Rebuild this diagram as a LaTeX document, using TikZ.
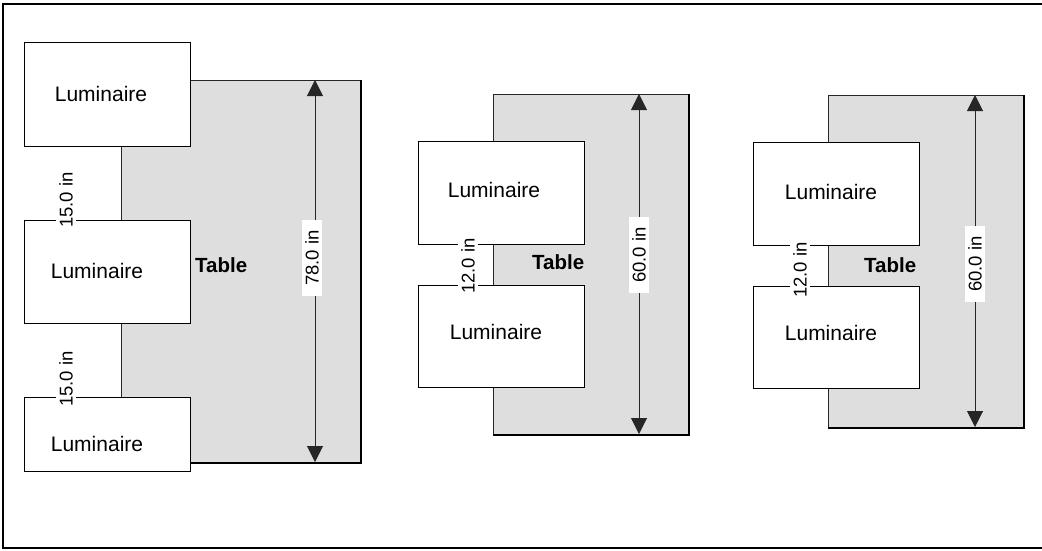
\documentclass[tikz,border=0pt]{standalone}
\usepackage{fontspec}
\setmainfont{Liberation Sans}
\usetikzlibrary{arrows.meta}
\definecolor{tablegray}{HTML}{DEDEDE}
\begin{document}
\begin{tikzpicture}[x=1pt,y=-1pt,
  tbl/.style={draw=black!85,fill=tablegray,line width=1pt,inner sep=0pt,anchor=north west},
  lum/.style={draw=black,fill=white,line width=1pt,inner sep=0pt,anchor=north west,minimum width=166pt},
  lumtext/.style={font=\fontsize{21}{25}\selectfont,inner sep=0pt},
  tabletext/.style={font=\fontsize{20.5}{24}\selectfont\bfseries,inner sep=0pt,anchor=west},
  dimlabel/.style={fill=white,rotate=90,font=\fontsize{18.5}{22}\selectfont,inner xsep=4pt,inner ysep=3pt},
  bigdim/.style={fill=white,rotate=90,font=\fontsize{18.5}{22}\selectfont,inner xsep=10pt,inner ysep=3pt},
  dimline/.style={draw=black!85,line width=1pt,{Triangle[width=16pt,length=16pt]}-{Triangle[width=16pt,length=16pt]}},
  shadowline/.style={draw=black,line width=2.2pt},
  framestyle/.style={draw=black,line width=1.3pt}]
\useasboundingbox (0,0) rectangle (1042,550);

% outer frame (open to the right)
\coordinate (f1) at (1046,4);
\coordinate (f2) at (3,4);
\coordinate (f3) at (3,548);
\coordinate (f4) at (1046,548);
\draw[framestyle] (f1) -- (f2) -- (f3) -- (f4);

% ---------------- diagram 1 ----------------
\node[tbl,minimum width=239pt,minimum height=382pt] (t1) at (121,80) {};
\draw[shadowline] (t1.north east) -- (t1.south east) -- (t1.south west);
\node[lum,minimum height=104pt] (l11) at (24,42) {};
\node[lum,minimum height=103pt] (l12) at (24,220) {};
\node[lum,minimum height=74pt] (l13) at (24,397) {};
\node[lumtext] (l11t) at (101,94) {Luminaire};
\node[lumtext] (l12t) at (97,271) {Luminaire};
\node[lumtext] (l13t) at (97,444) {Luminaire};
\node[tabletext] (tt1) at (195,265) {Table};
\coordinate (a1t) at (315,80);
\coordinate (a1b) at (315,462);
\draw[dimline] (a1t) -- (a1b);
\node[bigdim] (d1) at (312,258) {78.0 in};
\node[dimlabel] (d11) at (66,200) {15.0 in};
\node[dimlabel] (d12) at (66,379) {15.0 in};

% ---------------- diagram 2 ----------------
\node[tbl,minimum width=195pt,minimum height=340pt] (t2) at (493,94) {};
\draw[shadowline] (t2.north east) -- (t2.south east) -- (t2.south west);
\node[lum,minimum height=103pt] (l21) at (418,141) {};
\node[lum,minimum height=102pt] (l22) at (418,285) {};
\node[lumtext] (l21t) at (494,190) {Luminaire};
\node[lumtext] (l22t) at (496,332) {Luminaire};
\node[tabletext] (tt2) at (532,262) {Table};
\coordinate (a2t) at (639,94);
\coordinate (a2b) at (639,434);
\draw[dimline] (a2t) -- (a2b);
\node[bigdim] (d2) at (639,255) {60.0 in};
\node[dimlabel] (d21) at (468,266) {12.0 in};

% ---------------- diagram 3 ----------------
\node[tbl,minimum width=195pt,minimum height=332pt] (t3) at (828,95) {};
\draw[shadowline] (t3.north east) -- (t3.south east) -- (t3.south west);
\node[lum,minimum height=103pt] (l31) at (753,142) {};
\node[lum,minimum height=102pt] (l32) at (753,286) {};
\node[lumtext] (l31t) at (831,192) {Luminaire};
\node[lumtext] (l32t) at (831,333) {Luminaire};
\node[tabletext] (tt3) at (864,265) {Table};
\coordinate (a3t) at (975,95);
\coordinate (a3b) at (975,427);
\draw[dimline] (a3t) -- (a3b);
\node[bigdim] (d3) at (975,264) {60.0 in};
\node[dimlabel] (d31) at (800,270) {12.0 in};
\end{tikzpicture}
\end{document}
